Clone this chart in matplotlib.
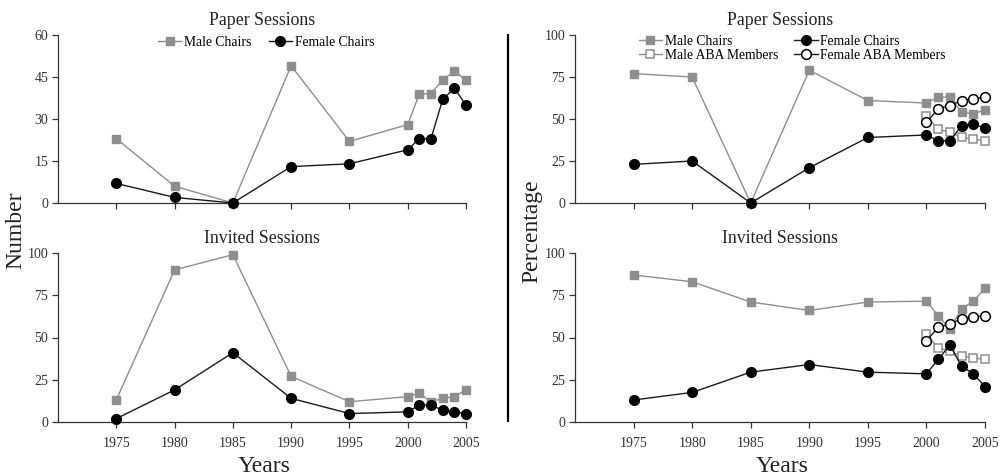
import matplotlib
matplotlib.use("Agg")
import matplotlib.pyplot as plt
from matplotlib.lines import Line2D

plt.rcParams['font.family'] = ['Liberation Serif', 'DejaVu Serif']

years = [1975, 1980, 1985, 1990, 1995, 2000, 2001, 2002, 2003, 2004, 2005]
aba_years = [2000, 2001, 2002, 2003, 2004, 2005]

# counts
paper_male_n = [23, 6, 0, 49, 22, 28, 39, 39, 44, 47, 44]
paper_female_n = [7, 2, 0, 13, 14, 19, 23, 23, 37, 41, 35]
invited_male_n = [13, 90, 99, 27, 12, 15, 17, 12, 14, 15, 19]
invited_female_n = [2, 19, 41, 14, 5, 6, 10, 10, 7, 6, 5]

# percentages
paper_male_pct = [77, 75, 0, 79, 61, 59.5, 63, 63, 54, 53, 55.5]
paper_female_pct = [23, 25, 0, 21, 39, 40.5, 37, 37, 46, 47, 44.5]
invited_male_pct = [87, 83, 71, 66, 71, 71.5, 63, 55, 67, 71.5, 79]
invited_female_pct = [13, 17.5, 29.5, 34, 29.5, 28.5, 37, 45.5, 33, 28.5, 21]
aba_male_pct = [52, 44, 42, 39, 38, 37]
aba_female_pct = [48, 56, 58, 61, 62, 63]

GRAY = '#8e8e8e'
INK = '#1a1a1a'
LW = 1.0

fig = plt.figure(figsize=(10.05, 4.75), dpi=100)

W, H = 1005.0, 475.0
def box(l, r, top, bot):
    return [l / W, 1 - bot / H, (r - l) / W, (bot - top) / H]

ax_pn = fig.add_axes(box(58, 466, 35, 203))
ax_in = fig.add_axes(box(58, 466, 253, 422))
ax_pp = fig.add_axes(box(575, 985, 35, 203))
ax_ip = fig.add_axes(box(575, 985, 253, 422))


def male(ax, x, y):
    ax.plot(x, y, color=GRAY, lw=LW, marker='s', ms=5.5, mfc=GRAY, mec=GRAY, clip_on=False, zorder=3)

def female(ax, x, y):
    ax.plot(x, y, color=INK, lw=LW, marker='o', ms=7, mfc='black', mec='black', clip_on=False, zorder=4)

def aba(ax):
    ax.plot(aba_years, aba_male_pct, color=GRAY, lw=LW, marker='s', ms=6, mfc='white', mec=GRAY,
            mew=1.1, clip_on=False, zorder=3)
    ax.plot(aba_years, aba_female_pct, color=INK, lw=LW, marker='o', ms=7, mfc='white', mec='black',
            mew=1.1, clip_on=False, zorder=4)


male(ax_pn, years, paper_male_n)
female(ax_pn, years, paper_female_n)
male(ax_in, years, invited_male_n)
female(ax_in, years, invited_female_n)
male(ax_pp, years, paper_male_pct)
female(ax_pp, years, paper_female_pct)
aba(ax_pp)
male(ax_ip, years, invited_male_pct)
female(ax_ip, years, invited_female_pct)
aba(ax_ip)

ax_pn.set_ylim(0, 60)
ax_pn.set_yticks([0, 15, 30, 45, 60])
ax_in.set_ylim(0, 100)
ax_in.set_yticks([0, 25, 50, 75, 100])
for ax in (ax_pp, ax_ip):
    ax.set_ylim(0, 100)
    ax.set_yticks([0, 25, 50, 75, 100])

for ax in (ax_pn, ax_in, ax_pp, ax_ip):
    ax.set_xlim(1970, 2005)
    ax.set_xticks([1975, 1980, 1985, 1990, 1995, 2000, 2005])
    for s in ('top', 'right'):
        ax.spines[s].set_visible(False)
    for s in ('left', 'bottom'):
        ax.spines[s].set_linewidth(0.9)
        ax.spines[s].set_color('#333333')
    ax.tick_params(direction='out', length=4, width=0.9, color='#333333',
                   labelsize=10, labelcolor='#333333', pad=3)
    ax.tick_params(axis='x', pad=7)

for ax in (ax_pn, ax_pp):
    ax.tick_params(axis='x', labelbottom=False)
    ax.set_title('Paper Sessions', fontsize=12.8, pad=7, color='#222222')
for ax in (ax_in, ax_ip):
    ax.set_title('Invited Sessions', fontsize=12.8, pad=7, color='#222222')

# legends
h_male = Line2D([], [], color=GRAY, lw=LW, marker='s', ms=5.5, mfc=GRAY, mec=GRAY)
h_female = Line2D([], [], color=INK, lw=LW, marker='o', ms=7, mfc='black', mec='black')
h_aba_m = Line2D([], [], color=GRAY, lw=LW, marker='s', ms=6, mfc='white', mec=GRAY, mew=1.1)
h_aba_f = Line2D([], [], color=INK, lw=LW, marker='o', ms=7, mfc='white', mec='black', mew=1.1)

ax_pn.legend([h_male, h_female], ['Male Chairs', 'Female Chairs'], ncol=2, frameon=False,
             loc='upper center', bbox_to_anchor=(0.51, 1.068), fontsize=9.8,
             handlelength=1.7, handletextpad=0.2, columnspacing=1.3)
ax_pp.legend([h_male, h_aba_m, h_female, h_aba_f],
             ['Male Chairs', 'Male ABA Members', 'Female Chairs', 'Female ABA Members'],
             ncol=2, frameon=False, loc='upper center', bbox_to_anchor=(0.53, 1.072), fontsize=9.8,
             handlelength=1.7, handletextpad=0.2, columnspacing=1.2, labelspacing=0.05)

# axis labels
fig.text(16 / W, 1 - 230 / H, 'Number', rotation=90, ha='center', va='center', fontsize=17, color='#222222')
fig.text(532 / W, 1 - 231 / H, 'Percentage', rotation=90, ha='center', va='center', fontsize=17, color='#222222')
fig.text(264 / W, 1 - 466 / H, 'Years', ha='center', va='center', fontsize=17, color='#222222')
fig.text(782 / W, 1 - 466 / H, 'Years', ha='center', va='center', fontsize=17, color='#222222')

# divider between the two halves
fig.add_artist(Line2D([508 / W, 508 / W], [1 - 35 / H, 1 - 421 / H], color='black', lw=1.6))

fig.savefig('out.png', dpi=100, facecolor='white')
